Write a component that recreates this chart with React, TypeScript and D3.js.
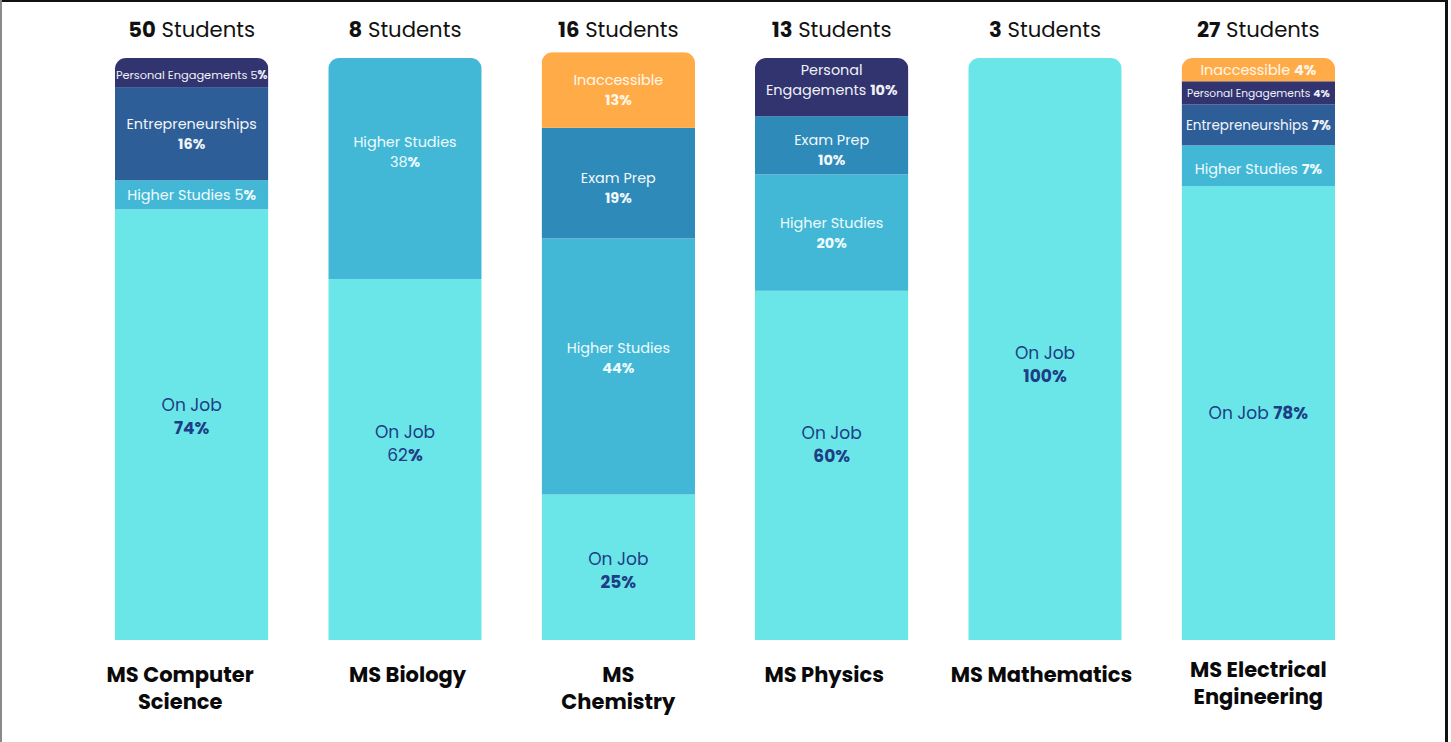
import React, { useRef, useEffect } from "react"
import * as d3 from "d3"

const programs = [
  "MS Computer Science",
  "MS Biology",
  "MS Chemistry",
  "MS Physics",
  "MS Mathematics",
  "MS Electrical Engineering",
]
// how the program names break onto lines under the bars
const programLines = [
  ["MS Computer", "Science"],
  ["MS Biology"],
  ["MS", "Chemistry"],
  ["MS Physics"],
  ["MS Mathematics"],
  ["MS Electrical", "Engineering"],
]
const students = [50, 8, 16, 13, 3, 27]

// percent of each program's students, stacked bottom -> top
const onJob = [74, 62, 25, 60, 100, 78]
const higherStudies = [5, 38, 44, 20, 0, 7]
const examPrep = [0, 0, 19, 10, 0, 0]
const entrepreneurships = [16, 0, 0, 0, 0, 7]
const personalEngagements = [5, 0, 0, 10, 0, 4]
const inaccessible = [0, 0, 13, 0, 0, 4]

const categories = [
  { key: "onJob", name: "On Job", values: onJob },
  { key: "higherStudies", name: "Higher Studies", values: higherStudies },
  { key: "examPrep", name: "Exam Prep", values: examPrep },
  { key: "entrepreneurships", name: "Entrepreneurships", values: entrepreneurships },
  { key: "personalEngagements", name: "Personal Engagements", values: personalEngagements },
  { key: "inaccessible", name: "Inaccessible", values: inaccessible },
]

const colors = {
  onJob: "#6ae6e9",
  higherStudies: "#42b8d6",
  examPrep: "#2d8ab9",
  entrepreneurships: "#2e5e98",
  personalEngagements: "#31346e",
  inaccessible: "#ffac48",
}
const textColors = {
  onJob: "#1d3d84",
  higherStudies: "#eefbfd",
  examPrep: "#f2f8fc",
  entrepreneurships: "#f2f5fa",
  personalEngagements: "#f0f0f8",
  inaccessible: "#fff7ec",
}

// label layout: "split" = name / pct on two lines, "single" = one line,
// "wrap" = first word / rest + pct. plain = number not bold, dy = nudge
const labelLayout = {
  "0|onJob": { dy: -8 },
  "0|personalEngagements": { mode: "single", size: 11.4, plain: true, dy: 2 },
  "0|higherStudies": { mode: "single", plain: true },
  "1|higherStudies": { plain: true, dy: -17 },
  "1|onJob": { plain: true, dy: -16 },
  "2|exam": {},
  "2|examPrep": { dy: 5 },
  "2|higherStudies": { dy: -8 },
  "2|onJob": { dy: 3 },
  "3|personalEngagements": { mode: "wrap", dy: -7 },
  "3|examPrep": { dy: 5 },
  "3|onJob": { dy: -21 },
  "4|onJob": { dy: 15 },
  "5|inaccessible": { mode: "single" },
  "5|personalEngagements": { mode: "single", size: 10.7 },
  "5|entrepreneurships": { mode: "single", size: 13.5 },
  "5|higherStudies": { mode: "single", dy: 3 },
  "5|onJob": { mode: "single" },
}
// horizontal nudge of the program names under the bars
const programShift = [-11.5, 2.5, 0, -7.5, -3.5, 0]

const width = 1451
const height = 742
const font = "Poppins, Inter, 'Noto Sans', sans-serif"

function drawChart(svgEl: SVGSVGElement) {
  const svg = d3.select(svgEl)
  svg.selectAll("*").remove()

  const x = d3
    .scaleBand()
    .domain(programs)
    .range([85, 1365])
    .paddingInner(0.281)
    .paddingOuter(0.1405)

  const y = d3.scaleLinear().domain([0, 100]).range([640, 58])

  const rows = programs.map((p, i) => {
    const r: any = { program: p, idx: i }
    categories.forEach(c => (r[c.key] = c.values[i]))
    return r
  })

  const stack = d3.stack().keys(categories.map(c => c.key))
  const series = stack(rows)

  // frame
  svg.append("rect").attr("x", 0).attr("y", 0).attr("width", 1447).attr("height", 2).attr("fill", "#111")
  svg.append("rect").attr("x", 0).attr("y", 0).attr("width", 2).attr("height", height).attr("fill", "#8a8a8a")
  svg.append("rect").attr("x", 1445).attr("y", 0).attr("width", 3).attr("height", height).attr("fill", "#111")

  const defs = svg.append("defs")
  const r = 11
  programs.forEach((p, i) => {
    const total = d3.sum(categories, c => c.values[i])
    const x0 = x(p)!
    const w = x.bandwidth()
    const top = y(total)
    const bottom = y(0)
    const path = d3.path()
    path.moveTo(x0, bottom)
    path.lineTo(x0, top + r)
    path.arcTo(x0, top, x0 + r, top, r)
    path.lineTo(x0 + w - r, top)
    path.arcTo(x0 + w, top, x0 + w, top + r, r)
    path.lineTo(x0 + w, bottom)
    path.closePath()
    defs.append("clipPath").attr("id", "clip" + i).append("path").attr("d", path.toString())
  })

  const layer = svg.append("g")
  series.forEach(s => {
    const key = s.key
    s.forEach((d: any, i) => {
      if (d[1] - d[0] <= 0) return
      const p = programs[i]
      layer
        .append("rect")
        .attr("clip-path", `url(#clip${i})`)
        .attr("x", x(p)!)
        .attr("width", x.bandwidth())
        .attr("y", y(d[1]))
        .attr("height", y(d[0]) - y(d[1]))
        .attr("fill", colors[key])
    })
  })

  // segment labels
  const labels = svg.append("g").attr("font-family", font)
  series.forEach(s => {
    const key = s.key
    const cat = categories.find(c => c.key === key)!
    s.forEach((d: any, i) => {
      const v = d[1] - d[0]
      if (v <= 0) return
      const cx = x(programs[i])! + x.bandwidth() / 2
      const lay = {
        mode: "split",
        size: key === "onJob" ? 17 : 14.4,
        plain: false,
        dy: 0,
        ...(labelLayout[i + "|" + key] || {}),
      }
      const cy = (y(d[0]) + y(d[1])) / 2 + lay.dy
      const gap = key === "onJob" ? 23 : 20
      const t = labels
        .append("text")
        .attr("text-anchor", "middle")
        .attr("dominant-baseline", "central")
        .attr("font-size", lay.size)
        .attr("fill", textColors[key])
      const pct = (sel, dy?: number) => {
        const num = sel.append("tspan").attr("font-weight", lay.plain ? 400 : 700).text(String(v))
        if (dy) num.attr("x", cx).attr("dy", dy)
        sel.append("tspan").attr("font-weight", 700).text("%")
      }
      if (lay.mode === "single") {
        t.attr("x", cx).attr("y", cy)
        t.append("tspan").text(cat.name + " ")
        pct(t)
      } else if (lay.mode === "wrap") {
        const parts = cat.name.split(" ")
        t.attr("x", cx).attr("y", cy - gap / 2)
        t.append("tspan").text(parts[0])
        t.append("tspan").attr("x", cx).attr("dy", gap).text(parts.slice(1).join(" ") + " ")
        pct(t)
      } else {
        t.attr("x", cx).attr("y", cy - gap / 2)
        t.append("tspan").text(cat.name)
        pct(t, gap)
      }
    })
  })

  // headers
  programs.forEach((p, i) => {
    const cx = x(p)! + x.bandwidth() / 2
    const t = svg
      .append("text")
      .attr("x", cx)
      .attr("y", 37)
      .attr("text-anchor", "middle")
      .attr("font-family", font)
      .attr("font-size", 21.2)
      .attr("fill", "#111")
    t.append("tspan").attr("font-weight", 700).text(students[i])
    t.append("tspan").attr("font-weight", 400).text(" Students")
  })

  // program names
  programs.forEach((p, i) => {
    const cx = x(p)! + x.bandwidth() / 2 + programShift[i]
    const lines = programLines[i]
    const y0 = p === "MS Electrical Engineering" ? 677 : 682
    const t = svg
      .append("text")
      .attr("text-anchor", "middle")
      .attr("font-family", font)
      .attr("font-size", 21)
      .attr("font-weight", 700)
      .attr("fill", "#0a0a0a")
    lines.forEach((l, j) => {
      t.append("tspan").attr("x", cx).attr("y", y0 + j * 27).text(l)
    })
  })
}

export default function App() {
  const ref = useRef<SVGSVGElement>(null)
  useEffect(() => {
    if (ref.current) drawChart(ref.current)
  }, [])
  return (
    <svg
      ref={ref}
      width={width}
      height={height}
      style={{ position: "absolute", left: 0, top: 0, background: "#fff" }}
    />
  )
}
